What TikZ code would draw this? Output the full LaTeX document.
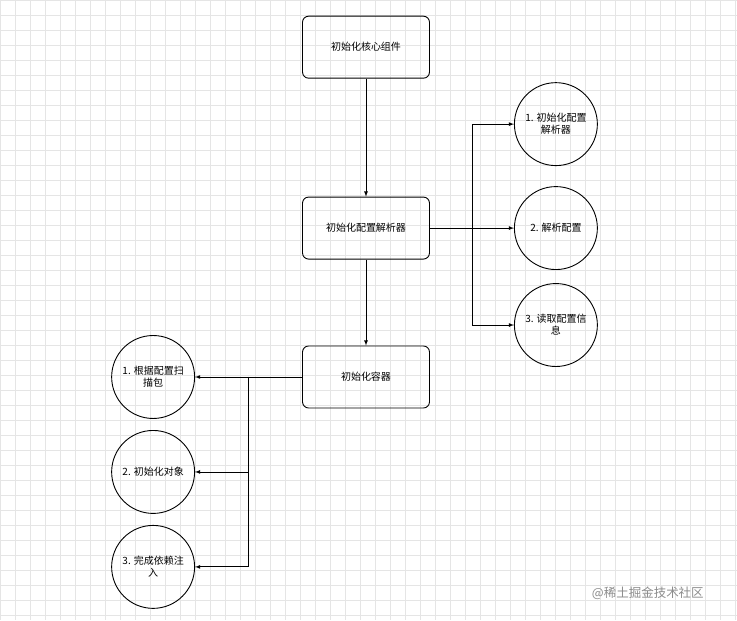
\documentclass[tikz,border=0pt]{standalone}
\usepackage{fontspec}
\setmainfont{Noto Sans CJK SC}
\begin{document}
\begin{tikzpicture}[x=1pt,y=-1pt,
  box/.style={draw,rounded corners=6pt,minimum width=127pt,minimum height=62pt,font=\fontsize{10}{12}\selectfont,line width=0.9pt},
  circ/.style={draw,circle,minimum size=83pt,inner sep=0pt,align=center,font=\fontsize{10}{12}\selectfont,line width=0.9pt},
  arr/.style={-latex,line width=0.8pt}]
\fill[white] (0,0) rectangle (737,620);
\draw[black!10,step=15pt] (0,0) grid (737,620);
\useasboundingbox (0,0) rectangle (737,620);
\node[box] (core) at (366,47) {初始化核心组件};
\node[box] (parser) at (366,228) {初始化配置解析器};
\node[box] (cont) at (366,377) {初始化容器};
\node[circ] (r1) at (556,124) {1. 初始化配置\\解析器};
\node[circ] (r2) at (556,228) {2. 解析配置};
\node[circ] (r3) at (556,325) {3. 读取配置信\\息};
\node[circ] (l1) at (153,377) {1. 根据配置扫\\描包};
\node[circ] (l2) at (153,472) {2. 初始化对象};
\node[circ] (l3) at (153,567) {3. 完成依赖注\\入};
\coordinate (bR) at (472,228);
\coordinate (bL) at (248,377);
\draw[arr] (core) -- (parser);
\draw[arr] (parser) -- (cont);
\draw[arr] (parser) -- (r2);
\draw[arr] (bR) |- (r1);
\draw[arr] (bR) |- (r3);
\draw[arr] (cont) -- (l1);
\draw[arr] (bL) |- (l2);
\draw[arr] (bL) |- (l3);
\node[text=black!45,font=\fontsize{12.5}{14}\selectfont] (wm) at (648,593) {@稀土掘金技术社区};
\end{tikzpicture}
\end{document}
